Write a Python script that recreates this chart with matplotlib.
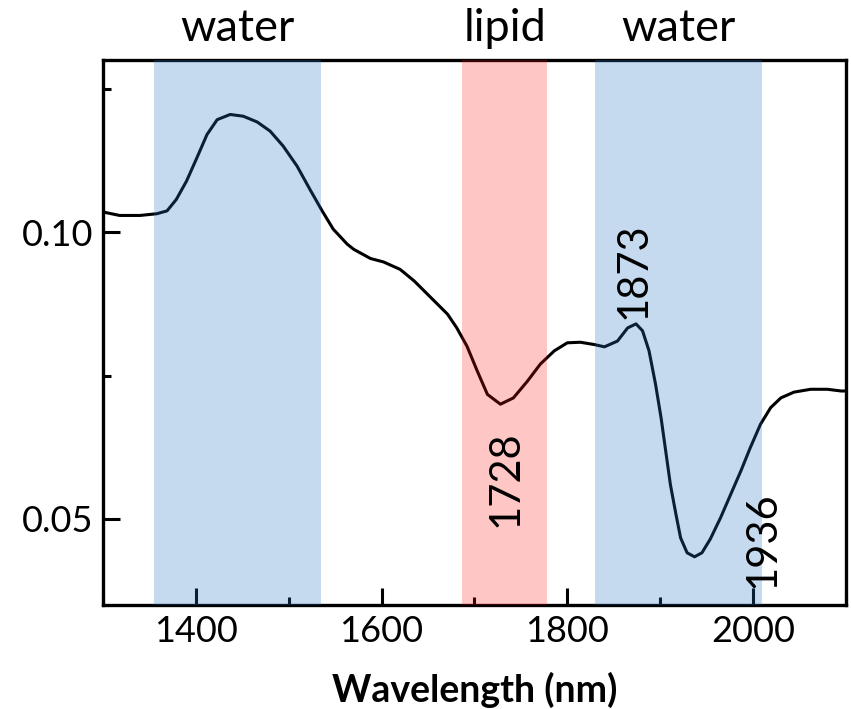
import matplotlib
matplotlib.use("Agg")
import matplotlib.pyplot as plt
import matplotlib.transforms as mtransforms
from matplotlib.ticker import MultipleLocator, FixedLocator

plt.rcParams['font.family'] = ['Lato', 'DejaVu Sans']

# Spectrum
wavelength = [1300, 1318, 1340, 1358, 1369, 1379, 1390, 1401, 1412, 1423, 1437, 1451,
              1466, 1480, 1494, 1509, 1523, 1536, 1548, 1563, 1570, 1588, 1602, 1620,
              1635, 1653, 1671, 1681, 1692, 1703, 1714, 1728, 1742, 1757, 1771, 1786,
              1800, 1814, 1829, 1840, 1854, 1865, 1874, 1881, 1888, 1895, 1901, 1906,
              1911, 1917, 1922, 1929, 1937, 1945, 1954, 1965, 1976, 1987, 1997, 2008,
              2019, 2030, 2044, 2062, 2080, 2095, 2100]
absorb = [0.1035, 0.1029, 0.1029, 0.1032, 0.1037, 0.1057, 0.1089, 0.1129, 0.1170, 0.1196,
          0.1205, 0.1202, 0.1192, 0.1176, 0.1150, 0.1115, 0.1074, 0.1037, 0.1005, 0.0979,
          0.0970, 0.0954, 0.0948, 0.0935, 0.0915, 0.0886, 0.0857, 0.0833, 0.0801, 0.0758,
          0.0717, 0.0700, 0.0711, 0.0740, 0.0770, 0.0793, 0.0807, 0.0808, 0.0804, 0.0800,
          0.0810, 0.0833, 0.0840, 0.0828, 0.0793, 0.0735, 0.0676, 0.0618, 0.0560, 0.0508,
          0.0467, 0.0441, 0.0434, 0.0441, 0.0465, 0.0502, 0.0543, 0.0584, 0.0624, 0.0665,
          0.0694, 0.0711, 0.0721, 0.0726, 0.0726, 0.0723, 0.0723]

# Shaded bands
band_labels = ["water", "lipid", "water"]
band_start = [1355, 1687, 1830]
band_end = [1535, 1778, 2010]
band_colors = [(0.17, 0.46, 0.77), (1.0, 0.07, 0.07), (0.17, 0.46, 0.77)]
band_alpha = [0.27, 0.24, 0.27]

# Peak annotations
peak_labels = ["1728", "1873", "1936"]
peak_x = [1733, 1871, 2010]
peak_y = [0.0570, 0.0932, 0.0463]

x_ticks = [1400, 1600, 1800, 2000]
y_ticks = [0.05, 0.10]
y_ticklabels = ["0.05", "0.10"]

fig = plt.figure(figsize=(8.51, 7.09), dpi=100)
ax = fig.add_axes([0.121, 0.1467, 0.873, 0.7687])

ax.plot(wavelength, absorb, color='black', lw=2.2, zorder=2,
        solid_joinstyle='round', solid_capstyle='round')

for s, e, c, a in zip(band_start, band_end, band_colors, band_alpha):
    ax.axvspan(s, e, color=c, alpha=a, lw=0, zorder=3)

trans = mtransforms.blended_transform_factory(ax.transData, ax.transAxes)
for lab, s, e in zip(band_labels, band_start, band_end):
    ax.text((s + e) / 2, 1.058, lab, transform=trans, ha='center', va='center',
            fontsize=32.5)

for lab, px, py in zip(peak_labels, peak_x, peak_y):
    ax.text(px, py, lab, rotation=90, ha='center', va='center', fontsize=30, zorder=4)

ax.set_xlim(1300, 2100)
ax.set_ylim(0.035, 0.13)
ax.set_xticks(x_ticks)
ax.xaxis.set_minor_locator(MultipleLocator(100))
ax.set_yticks(y_ticks)
ax.set_yticklabels(y_ticklabels)
ax.yaxis.set_minor_locator(FixedLocator([0.075, 0.125]))

ax.tick_params(which='major', direction='in', length=12, width=2.2, labelsize=26, pad=7)
ax.tick_params(which='minor', direction='in', length=6, width=2.2)
ax.tick_params(axis='x', which='both', top=False)
ax.tick_params(axis='y', which='both', right=False)
for sp in ax.spines.values():
    sp.set_linewidth(2.4)

ax.set_xlabel("Wavelength (nm)", fontsize=27, fontweight='bold', labelpad=17)

fig.savefig("out.png", dpi=100)
